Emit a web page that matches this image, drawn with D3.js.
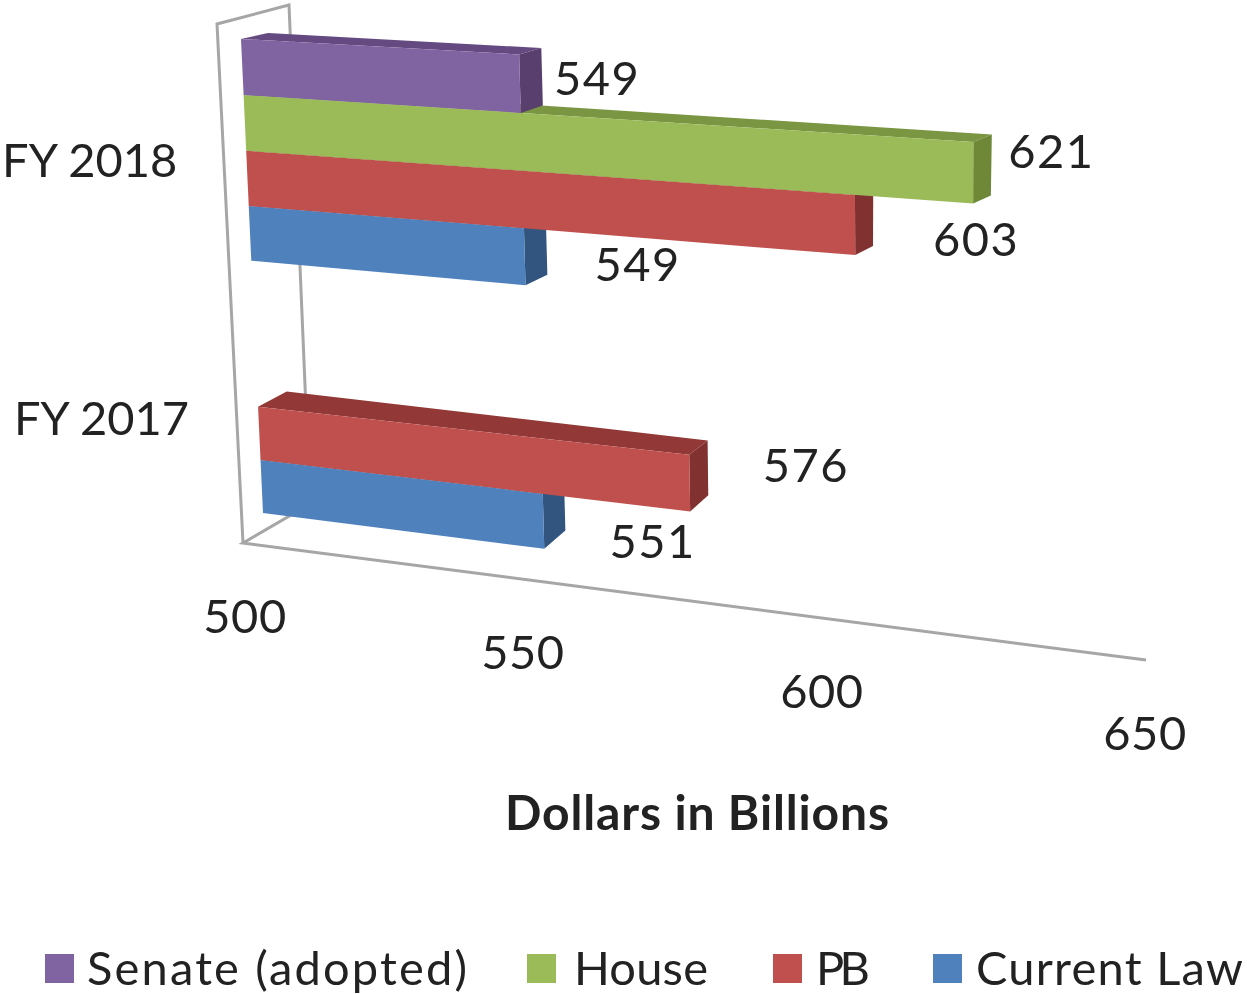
<!DOCTYPE html>
<html><head><meta charset="utf-8">
<style>html,body{margin:0;padding:0;background:#fff}svg{display:block;filter:blur(0.6px)}text{font-family:Lato,"Open Sans",sans-serif;fill:#222}</style>
<script src="https://cdn.jsdelivr.net/npm/d3@7"></script></head><body>
<svg id="c" width="1247" height="994"></svg>
<script>
// Data
const categories = ["FY 2018", "FY 2017"];
const seriesNames = ["Senate (adopted)", "House", "PB", "Current Law"];
const senate = [549, null];
const house = [621, null];
const pb = [603, 576];
const currentLaw = [549, 551];
const valueTicks = [500, 550, 600, 650];
const axisTitle = "Dollars in Billions";

// Styles and layout (not data)
const colors = {
  "Senate (adopted)": {front:"#8064A2", top:"#654a82", side:"#583f6d"},
  "House": {front:"#9BBB59", top:"#7a9643", side:"#6e8838"},
  "PB": {front:"#C0504D", top:"#923937", side:"#803130"},
  "Current Law": {front:"#4F81BD", top:"#3a608f", side:"#31557f"}
};
const labelNudge = {
  "Senate (adopted)|FY 2018":[55,0], "House|FY 2018":[60,-15], "PB|FY 2018":[103,21],
  "Current Law|FY 2018":[91,16], "PB|FY 2017":[98,-4], "Current Law|FY 2017":[88,36]
};
const legendLayout = [[45,87,380],[527,574,134],[773,816,54],[933,976,267]];

const svg = d3.select("#c");
const t = d3.scaleLinear().domain([500,650]).range([0,1]);
const band = d3.scaleBand().domain(categories).range([0,1]).paddingInner(0.7/4.7);
const rowBand = d3.scaleBand().domain(seriesNames).range([0,band.bandwidth()]);

function quad(A,C,D,B){
  const dx1=C[0]-D[0],dx2=B[0]-D[0],sx=A[0]-C[0]+D[0]-B[0];
  const dy1=C[1]-D[1],dy2=B[1]-D[1],sy=A[1]-C[1]+D[1]-B[1];
  const den=dx1*dy2-dx2*dy1;
  const g=(sx*dy2-dx2*sy)/den,h=(dx1*sy-sx*dy1)/den;
  const a=C[0]-A[0]+g*C[0],b=B[0]-A[0]+h*B[0],c=A[0];
  const d=C[1]-A[1]+g*C[1],e=B[1]-A[1]+h*B[1],f=A[1];
  return (u,v)=>{const w=g*u+h*v+1;return [(a*u+b*v+c)/w,(d*u+e*v+f)/w];};
}
const frontPlane = quad([241,39],[1174,91],[1165,628],[263,513]);
const backPlane  = quad([268,33],[1194,84],[1176,612],[292,494]);
const P = (value,v,depth)=>{
  const u=t(value), p=depth?backPlane(u,v):frontPlane(u,v);
  return p;
};
const line = d3.line();
const poly = pts => line(pts)+"Z";

// Frame
const floorK = 1.12;
const floorS = v=>{const u=t(v);return u/(u+floorK*(1-u));};
const floorX = d3.scaleLinear().domain([0,1]).range([243,1146]);
const floorY = d3.scaleLinear().domain([0,1]).range([543,660]);
const tickX = d3.scaleLinear().domain([0,1]).range([245,1145]);
const frame = svg.append("g").attr("fill","none").attr("stroke","#a6a6a6").attr("stroke-width",3);
frame.append("path").attr("d",line([[243,543],[217,24],[289,5],[310,504],[243,543],[floorX(1),floorY(1)]]));

// Bars: lowest first, so that each upper bar covers the one beneath it
const bars=[];
categories.forEach((c,ci)=>seriesNames.forEach((s,si)=>{
  const val=[senate,house,pb,currentLaw][si][ci];
  if(val!=null) bars.push({c,s,val});
}));
bars.sort((a,b)=>(categories.indexOf(b.c)-categories.indexOf(a.c))||(seriesNames.indexOf(b.s)-seriesNames.indexOf(a.s)));
const gB=svg.append("g");
bars.forEach(d=>{
  const v0=band(d.c)+rowBand(d.s), v1=v0+rowBand.bandwidth();
  const col=colors[d.s], g=gB.append("g");
  g.append("path").attr("fill",col.top).attr("d",poly([P(500,v0,0),P(d.val,v0,0),P(d.val,v0,1),P(500,v0,1)]));
  g.append("path").attr("fill",col.side).attr("d",poly([P(d.val,v0,0),P(d.val,v1,0),P(d.val,v1,1),P(d.val,v0,1)]));
  g.append("path").attr("fill",col.front).attr("d",poly([P(500,v0,0),P(d.val,v0,0),P(d.val,v1,0),P(500,v1,0)]));
});
// Data labels
const FS=47;
bars.forEach(d=>{
  const v0=band(d.c)+rowBand(d.s)+rowBand.bandwidth()/2;
  const p=P(d.val,v0,1), n=labelNudge[d.s+"|"+d.c];
  svg.append("text").attr("x",p[0]+n[0]).attr("y",p[1]+n[1]).attr("text-anchor","middle")
    .attr("dominant-baseline","central").attr("font-size",FS).attr("letter-spacing",1.5).text(d.val);
});
// Category labels
categories.forEach((c,i)=>{
  const p=P(500,band(c)+band.bandwidth()/2,0);
  svg.append("text").attr("x",p[0]-69).attr("y",p[1]+(i?10:8)).attr("text-anchor","end")
    .attr("dominant-baseline","central").attr("font-size",FS).text(c);
});
// Value ticks
valueTicks.forEach(v=>{
  const s=floorS(v);
  svg.append("text").attr("x",tickX(s)).attr("y",floorY(s)+72).attr("text-anchor","middle")
    .attr("dominant-baseline","central").attr("font-size",FS).attr("letter-spacing",0.5).text(v);
});
svg.append("text").attr("x",505).attr("y",811).attr("dominant-baseline","central")
  .attr("font-size",48).attr("font-weight",700).attr("textLength",384).attr("lengthAdjust","spacing").text(axisTitle);
// Legend
seriesNames.forEach((s,i)=>{
  svg.append("rect").attr("x",legendLayout[i][0]).attr("y",954).attr("width",29).attr("height",29).attr("fill",colors[s].front);
  svg.append("text").attr("x",legendLayout[i][1]).attr("y",985).attr("font-size",FS)
    .attr("textLength",legendLayout[i][2]).attr("lengthAdjust","spacing").text(s);
});
</script></body></html>
